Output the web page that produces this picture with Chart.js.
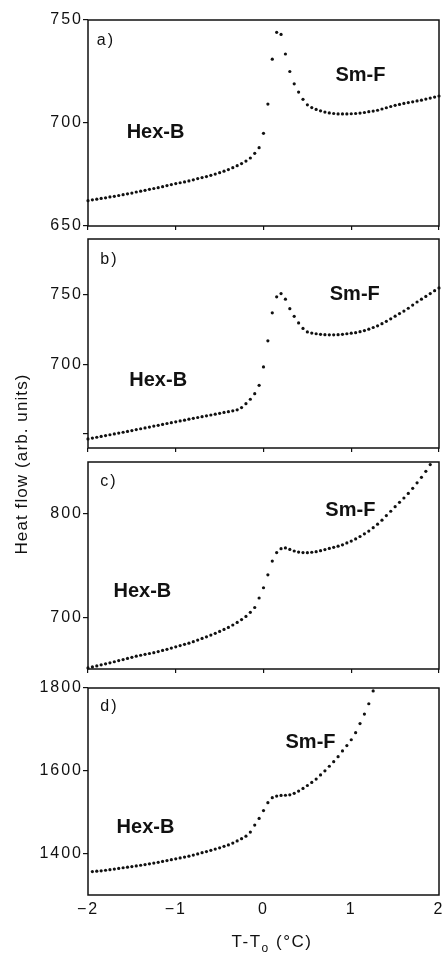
<!DOCTYPE html>
<html>
<head>
<meta charset="utf-8">
<title>Heat flow vs T-To</title>
<script src="https://cdn.jsdelivr.net/npm/chart.js@4.4.1/dist/chart.umd.min.js"></script>
<style>
  html, body { margin: 0; padding: 0; background: #fff; }
  #wrap { position: relative; width: 443px; height: 955px; }
  #wrap canvas { position: absolute; left: 0; top: 0; }
</style>
</head>
<body>
<div id="wrap">
  <canvas id="panelA" width="443" height="955"></canvas>
  <canvas id="panelB" width="443" height="955"></canvas>
  <canvas id="panelC" width="443" height="955"></canvas>
  <canvas id="panelD" width="443" height="955"></canvas>
</div>
<script>
// ── Data ─────────────────────────────────────────────────────
// T - To in °C, one sample every 0.05 °C
const tempX = [
  -2, -1.95, -1.9, -1.85, -1.8, -1.75, -1.7, -1.65, -1.6, -1.55,
  -1.5, -1.45, -1.4, -1.35, -1.3, -1.25, -1.2, -1.15, -1.1, -1.05,
  -1, -0.95, -0.9, -0.85, -0.8, -0.75, -0.7, -0.65, -0.6, -0.55,
  -0.5, -0.45, -0.4, -0.35, -0.3, -0.25, -0.2, -0.15, -0.1, -0.05,
  0, 0.05, 0.1, 0.15, 0.2, 0.25, 0.3, 0.35, 0.4, 0.45,
  0.5, 0.55, 0.6, 0.65, 0.7, 0.75, 0.8, 0.85, 0.9, 0.95,
  1, 1.05, 1.1, 1.15, 1.2, 1.25, 1.3, 1.35, 1.4, 1.45,
  1.5, 1.55, 1.6, 1.65, 1.7, 1.75, 1.8, 1.85, 1.9, 1.95,
  2
];

// heat flow (arb. units), panels a) .. d)
const heatA = [
  662.3, 662.7, 663.0, 663.4, 663.7, 664.1, 664.4, 664.8, 665.2, 665.6,
  666.0, 666.5, 666.9, 667.3, 667.8, 668.2, 668.6, 669.1, 669.6, 670.1,
  670.6, 671.0, 671.4, 671.9, 672.4, 673.0, 673.5, 674.0, 674.6, 675.2,
  675.9, 676.6, 677.4, 678.3, 679.3, 680.3, 681.5, 683.0, 685.3, 688.0,
  695.0, 709.2, 731.0, 744.0, 743.0, 733.5, 725.0, 719.0, 715.0, 711.5,
  708.8, 707.5, 706.6, 705.9, 705.3, 704.9, 704.6, 704.4, 704.4, 704.4,
  704.5, 704.6, 704.8, 705.1, 705.5, 705.8, 706.2, 706.8, 707.4, 708.0,
  708.6, 709.0, 709.5, 709.9, 710.3, 710.7, 711.1, 711.6, 712.1, 712.6,
  713.1
];
const heatB = [
  646.5, 647.1, 647.7, 648.3, 648.9, 649.5, 650.1, 650.7, 651.3, 651.9,
  652.5, 653.2, 653.8, 654.4, 655.0, 655.7, 656.3, 656.9, 657.6, 658.2,
  658.8, 659.4, 660.0, 660.7, 661.3, 661.9, 662.5, 663.1, 663.7, 664.3,
  664.9, 665.5, 666.1, 666.7, 667.4, 669.0, 671.8, 675.0, 679.0, 685.0,
  698.2, 716.9, 737.0, 748.5, 750.8, 746.8, 740.0, 734.5, 729.8, 725.8,
  723.3, 722.5, 722.0, 721.6, 721.3, 721.2, 721.2, 721.3, 721.6, 722.0,
  722.4, 722.8, 723.5, 724.3, 725.3, 726.5, 727.7, 729.2, 730.9, 732.7,
  734.6, 736.5, 738.3, 740.3, 742.6, 744.8, 746.8, 748.8, 750.8, 752.9,
  754.9
];
const heatC = [
  651.0, 652.0, 653.0, 654.0, 655.0, 656.0, 657.0, 658.1, 659.1, 660.2,
  661.3, 662.4, 663.3, 664.2, 665.0, 665.8, 666.8, 667.9, 669.0, 670.2,
  671.4, 672.6, 673.8, 675.0, 676.4, 677.9, 679.5, 681.1, 682.8, 684.5,
  686.3, 688.2, 690.2, 692.5, 695.0, 697.8, 700.8, 704.8, 709.4, 718.6,
  728.5, 741.0, 754.3, 762.5, 766.3, 767.0, 765.5, 764.0, 763.0, 762.5,
  762.4, 762.8, 763.4, 764.3, 765.4, 766.5, 767.6, 768.7, 770.0, 771.8,
  773.6, 775.7, 778.0, 780.6, 783.3, 786.5, 789.9, 793.8, 798.2, 802.4,
  806.8, 811.0, 815.2, 819.6, 824.6, 829.9, 835.2, 841.0, 847.5, null,
  null
];
const heatD = [
  null, 1356.5, 1357.5, 1358.5, 1359.8, 1361.2, 1362.6, 1364.2, 1365.8, 1367.2,
  1368.7, 1370.2, 1371.8, 1373.5, 1375.2, 1377.0, 1379.0, 1381.0, 1383.2, 1385.4,
  1387.5, 1389.6, 1391.7, 1393.9, 1396.5, 1399.3, 1402.2, 1405.0, 1408.0, 1411.0,
  1414.0, 1417.5, 1421.0, 1425.5, 1430.5, 1436.0, 1442.0, 1452.0, 1469.0, 1485.0,
  1504.0, 1523.0, 1535.0, 1539.0, 1540.5, 1541.0, 1542.0, 1545.5, 1551.0, 1557.5,
  1564.5, 1572.0, 1580.0, 1590.0, 1600.0, 1611.0, 1622.0, 1634.0, 1648.0, 1661.0,
  1675.0, 1692.0, 1714.0, 1737.0, 1762.0, 1793.0, null, null, null, null,
  null, null, null, null, null, null, null, null, null, null,
  null
];

// axis ticks
const xTicks  = [-2, -1, 0, 1, 2];
const yTicksA = [650, 700, 750];
const yTicksB = [650, 700, 750];
const yLabelsB = ['', '700', '750'];
const yTicksC = [700, 800];
const yTicksD = [1400, 1600, 1800];

// ── Helpers ──────────────────────────────────────────────────
const INK = '#111';
const FAMILY = '"Liberation Sans", Arial, sans-serif';
const AXIS_FONT = { family: FAMILY, size: 16 };
const NOTE_FONT = 'bold 20px ' + FAMILY;
const TAG_FONT  = '16px ' + FAMILY;
const TITLE_FONT = '17px ' + FAMILY;
const SUB_FONT = '12px ' + FAMILY;

function minusFmt(v) { return v < 0 ? '\u2212' + Math.abs(v) : String(v); }

function toPoints(values) {
  return tempX.map((x, i) => ({ x, y: values[i] })).filter(p => p.y !== null);
}

// frame, panel tags, phase labels and the shared axis titles
const panelDecor = {
  id: 'panelDecor',
  beforeDraw(chart) { chart.ctx.letterSpacing = '2px'; },
  afterDatasetsDraw(chart, args, opts) {
    const { ctx, chartArea: a, scales } = chart;
    ctx.save();
    ctx.letterSpacing = '0px';
    ctx.strokeStyle = INK;
    ctx.lineWidth = 1.5;
    ctx.strokeRect(a.left, a.top, a.right - a.left, a.bottom - a.top);
    ctx.fillStyle = INK;
    ctx.textBaseline = 'middle';
    (opts.notes || []).forEach(n => {
      ctx.font = n.tag ? TAG_FONT : NOTE_FONT;
      ctx.letterSpacing = n.tag ? '2px' : '0px';
      ctx.textAlign = n.tag ? 'left' : 'center';
      ctx.fillText(n.text, scales.x.getPixelForValue(n.x), scales.y.getPixelForValue(n.y));
    });
    if (opts.titles) {
      ctx.textBaseline = 'alphabetic';
      // y title, rotated
      ctx.save();
      ctx.font = TITLE_FONT;
      ctx.letterSpacing = '1.1px';
      ctx.translate(27, 464);
      ctx.rotate(-Math.PI / 2);
      ctx.textAlign = 'center';
      ctx.fillText('Heat flow (arb. units)', 0, 0);
      ctx.restore();
      // x title with subscript o
      ctx.letterSpacing = '1.5px';
      const p1 = 'T-T', sub = 'o', p2 = ' (°C)';
      ctx.font = TITLE_FONT;
      const w1 = ctx.measureText(p1).width, w3 = ctx.measureText(p2).width;
      ctx.font = SUB_FONT;
      const w2 = ctx.measureText(sub).width;
      let x = 272 - (w1 + w2 + w3) / 2;
      ctx.textAlign = 'left';
      ctx.font = TITLE_FONT;
      ctx.fillText(p1, x, 947);
      x += w1;
      ctx.font = SUB_FONT;
      ctx.fillText(sub, x, 952);
      x += w2;
      ctx.font = TITLE_FONT;
      ctx.fillText(p2, x, 947);
    }
    ctx.restore();
  }
};

function makePanel(id, values, p) {
  return new Chart(document.getElementById(id), {
    type: 'scatter',
    data: {
      datasets: [{
        data: toPoints(values),
        showLine: false,
        pointRadius: 1.6,
        pointBackgroundColor: INK,
        pointBorderWidth: 0,
        clip: false
      }]
    },
    options: {
      responsive: false,
      maintainAspectRatio: false,
      animation: false,
      events: [],
      layout: { padding: { left: 0, right: 4, top: p.top, bottom: p.last ? 0 : 955 - p.bottom } },
      plugins: {
        legend: { display: false },
        tooltip: { enabled: false },
        panelDecor: { notes: p.notes, titles: !!p.last }
      },
      scales: {
        x: {
          type: 'linear', min: -2, max: 2,
          afterBuildTicks: s => { s.ticks = xTicks.map(v => ({ value: v })); },
          afterFit: s => {
            s.height = p.last ? 955 - p.bottom : 0;
            s.paddingLeft = 0; s.paddingRight = 0;
          },
          border: { display: false },
          grid: { drawOnChartArea: false, drawTicks: !p.last, tickLength: 4, color: INK, lineWidth: 1.2 },
          ticks: { display: !!p.last, color: INK, font: AXIS_FONT, padding: 5, maxRotation: 0, callback: minusFmt }
        },
        y: {
          min: p.min, max: p.max,
          afterBuildTicks: s => { s.ticks = p.ticks.map(v => ({ value: v })); },
          afterFit: s => { s.width = 88; s.paddingTop = 0; s.paddingBottom = 0; },
          border: { display: false },
          grid: { drawOnChartArea: false, drawTicks: true, tickLength: 5, color: INK, lineWidth: 1.2 },
          ticks: {
            color: INK, font: AXIS_FONT, padding: 0,
            callback: v => p.labels ? p.labels[p.ticks.indexOf(v)] : String(v)
          }
        }
      }
    },
    plugins: [panelDecor]
  });
}

// ── Panels ───────────────────────────────────────────────────
makePanel('panelA', heatA, {
  top: 20, bottom: 226, min: 650, max: 750, ticks: yTicksA,
  notes: [
    { text: 'a)', x: -1.9, y: 740, tag: true },
    { text: 'Hex-B', x: -1.23, y: 695.4 },
    { text: 'Sm-F', x: 1.105, y: 723 }
  ]
});
makePanel('panelB', heatB, {
  top: 239, bottom: 448, min: 640, max: 790, ticks: yTicksB, labels: yLabelsB,
  notes: [
    { text: 'b)', x: -1.86, y: 775, tag: true },
    { text: 'Hex-B', x: -1.2, y: 688.3 },
    { text: 'Sm-F', x: 1.04, y: 750.1 }
  ]
});
makePanel('panelC', heatC, {
  top: 462, bottom: 669, min: 650, max: 850, ticks: yTicksC,
  notes: [
    { text: 'c)', x: -1.86, y: 831, tag: true },
    { text: 'Hex-B', x: -1.38, y: 724.9 },
    { text: 'Sm-F', x: 0.99, y: 803.4 }
  ]
});
makePanel('panelD', heatD, {
  top: 688, bottom: 895, min: 1300, max: 1800, ticks: yTicksD, last: true,
  notes: [
    { text: 'd)', x: -1.86, y: 1755, tag: true },
    { text: 'Hex-B', x: -1.345, y: 1463 },
    { text: 'Sm-F', x: 0.536, y: 1668 }
  ]
});
</script>
</body>
</html>
